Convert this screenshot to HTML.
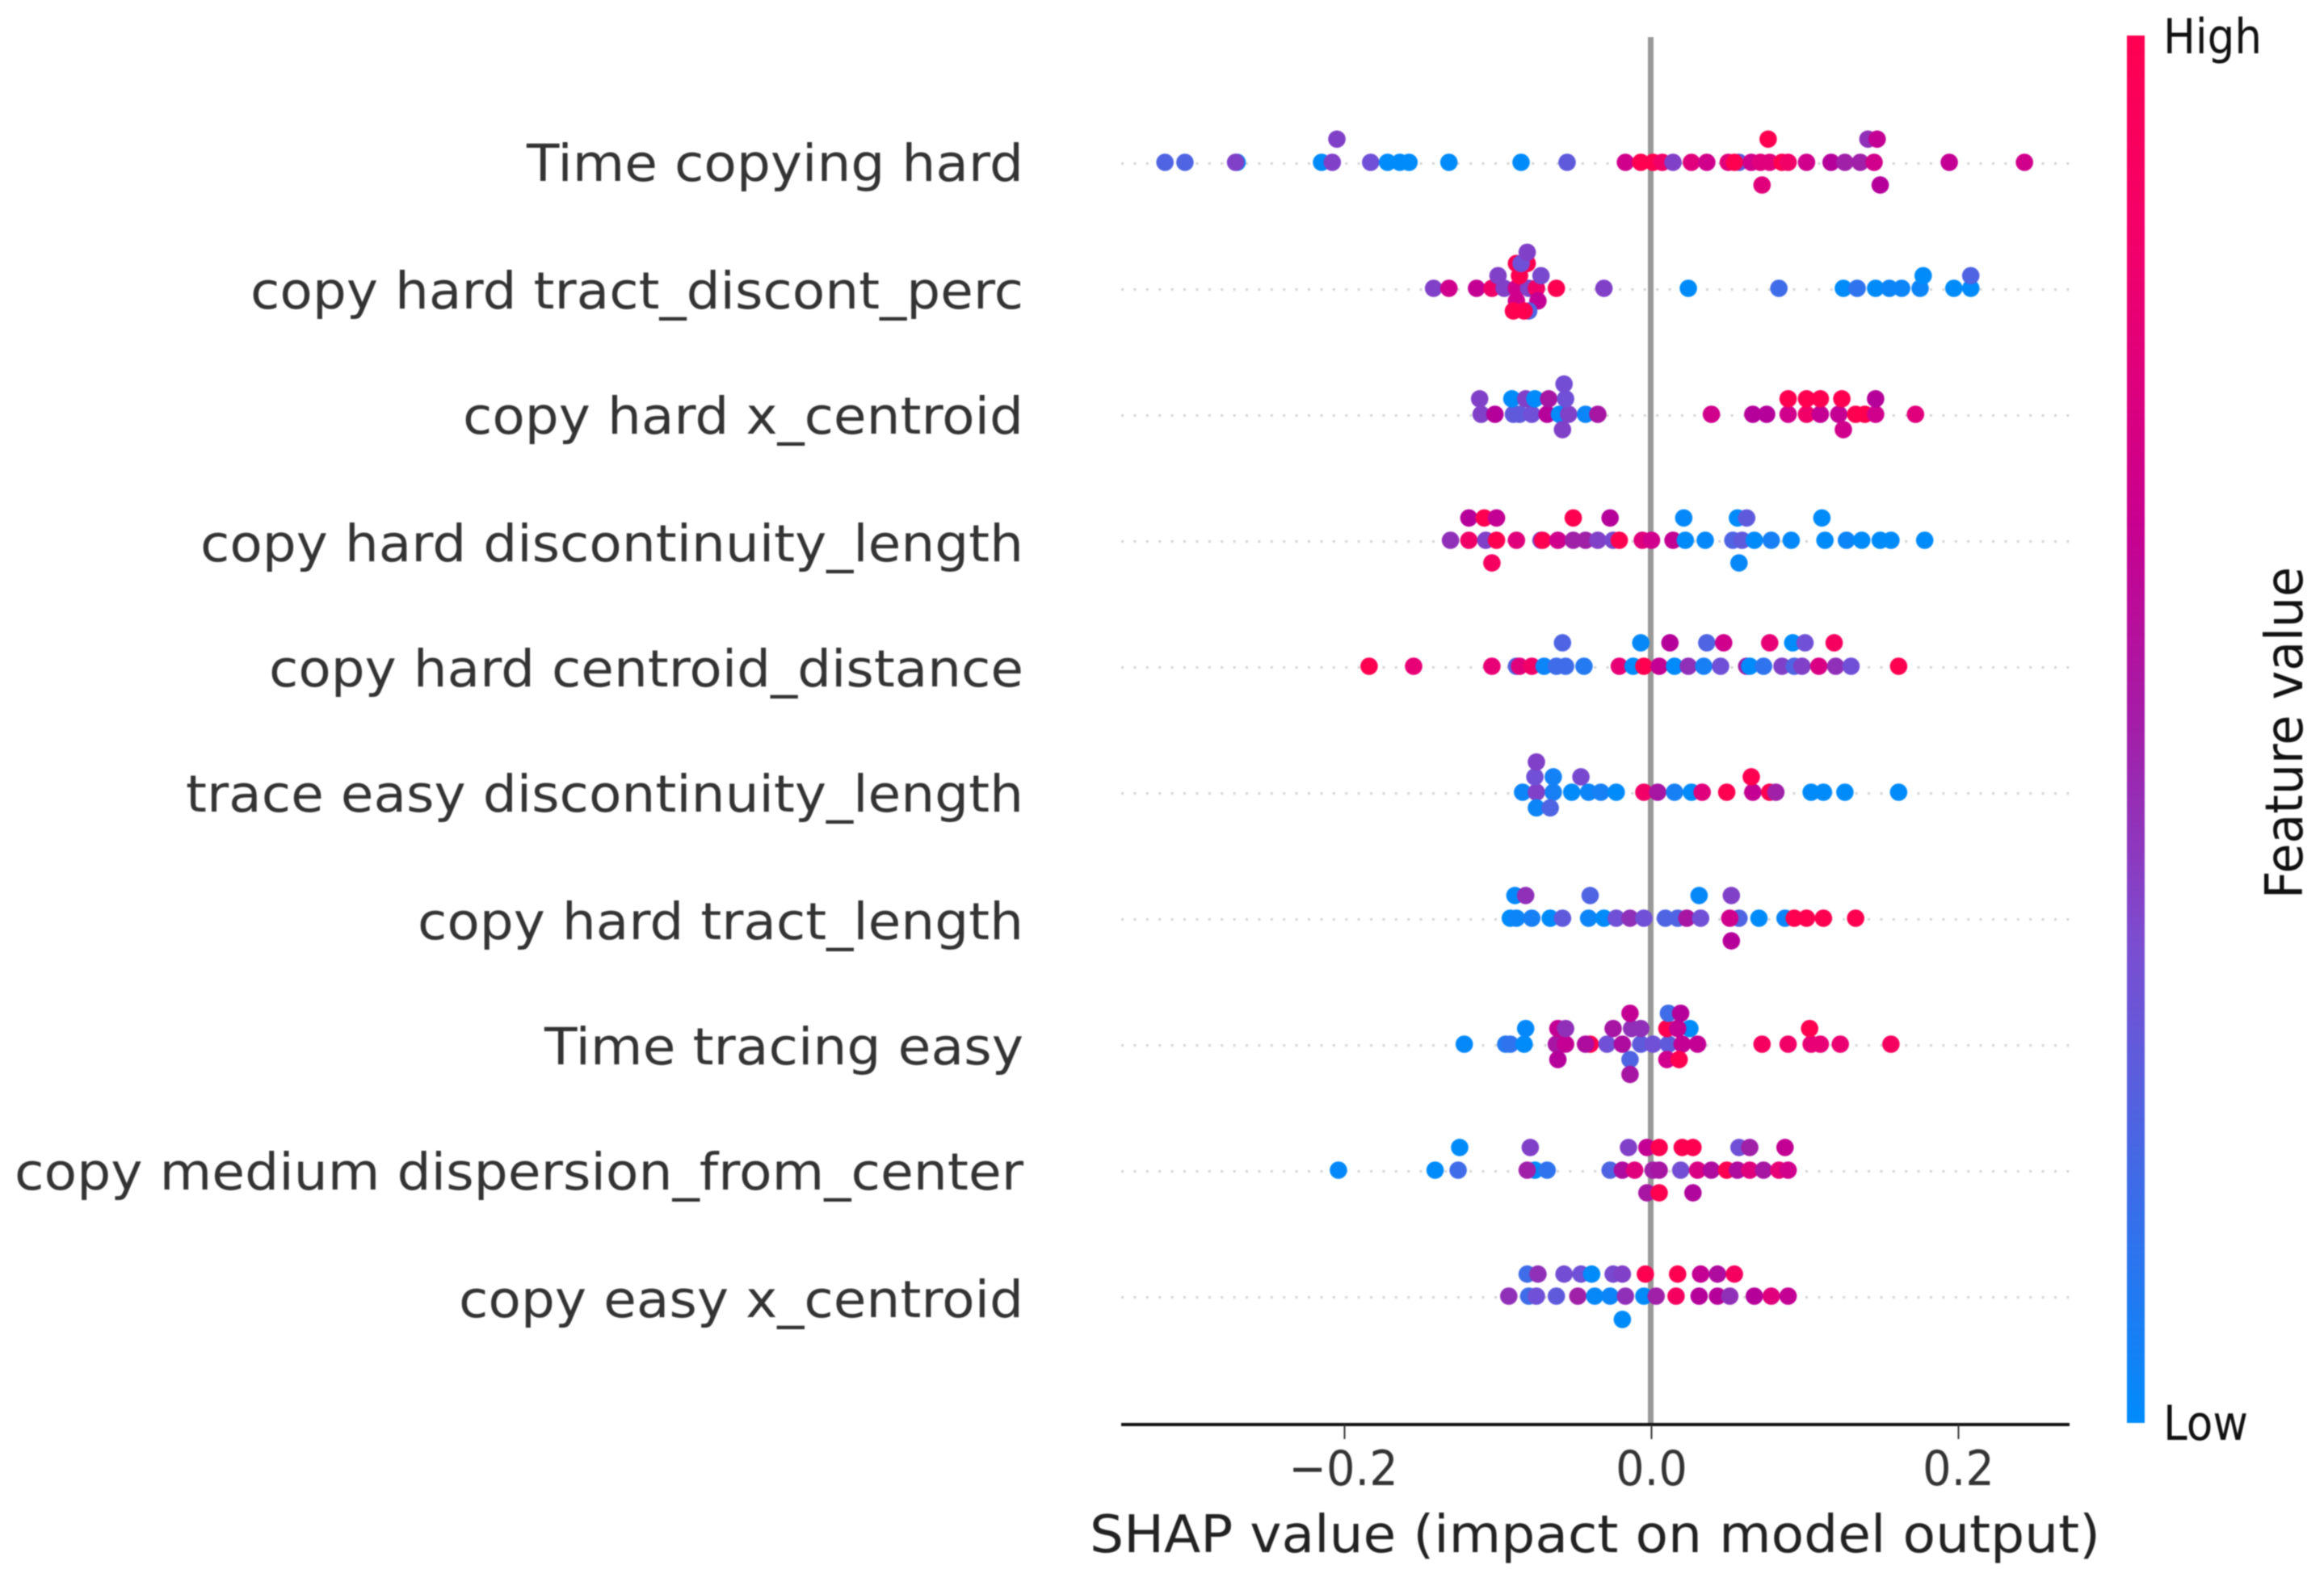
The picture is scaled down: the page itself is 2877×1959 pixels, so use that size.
<!DOCTYPE html>
<html lang="en">
<head>
<meta charset="utf-8">
<title>SHAP summary plot</title>
<style>
html,body{margin:0;padding:0;background:#fff;width:2877px;height:1959px;overflow:hidden}
svg{display:block;filter:blur(0.8px)}
text{font-family:"DejaVu Sans","Liberation Sans",sans-serif}
</style>
</head>
<body>
<svg id="chart" xmlns="http://www.w3.org/2000/svg" width="2877" height="1959" viewBox="0 0 2877 1959">
  <defs>
    <linearGradient id="cbar" x1="0" y1="1" x2="0" y2="0">
      <stop offset="0" stop-color="#008bfb"/>
      <stop offset="0.12" stop-color="#2c74ee"/>
      <stop offset="0.345" stop-color="#7b4dd0"/>
      <stop offset="0.5" stop-color="#a31ea8"/>
      <stop offset="0.647" stop-color="#c8008f"/>
      <stop offset="0.85" stop-color="#f2006a"/>
      <stop offset="1" stop-color="#ff0051"/>
    </linearGradient>
  </defs>
  <g id="rows"></g>
  <g id="zero"></g>
  <g id="points"></g>
  <g id="axis"></g>

  <g fill="#333" font-size="63" text-anchor="end">
    <text x="1267" y="224" textLength="615" lengthAdjust="spacingAndGlyphs">Time copying hard</text>
    <text x="1267" y="382" textLength="957" lengthAdjust="spacingAndGlyphs">copy hard tract_discont_perc</text>
    <text x="1267" y="537" textLength="694" lengthAdjust="spacingAndGlyphs">copy hard x_centroid</text>
    <text x="1267" y="695" textLength="1019" lengthAdjust="spacingAndGlyphs">copy hard discontinuity_length</text>
    <text x="1267" y="850" textLength="934" lengthAdjust="spacingAndGlyphs">copy hard centroid_distance</text>
    <text x="1267" y="1005" textLength="1037" lengthAdjust="spacingAndGlyphs">trace easy discontinuity_length</text>
    <text x="1267" y="1163" textLength="750" lengthAdjust="spacingAndGlyphs">copy hard tract_length</text>
    <text x="1267" y="1318" textLength="593" lengthAdjust="spacingAndGlyphs">Time tracing easy</text>
    <text x="1267" y="1473" textLength="1249" lengthAdjust="spacingAndGlyphs">copy medium dispersion_from_center</text>
    <text x="1267" y="1631" textLength="699" lengthAdjust="spacingAndGlyphs">copy easy x_centroid</text>
  </g>

  <text x="1349" y="1922" font-size="64" fill="#222" textLength="1251" lengthAdjust="spacingAndGlyphs">SHAP value (impact on model output)</text>

  <g>
    <rect x="2633" y="44" width="22" height="1718" fill="url(#cbar)"/>
    <text x="2678" y="66" font-size="60" fill="#111" textLength="122" lengthAdjust="spacingAndGlyphs">High</text>
    <text x="2678" y="1783" font-size="60" fill="#111" textLength="105" lengthAdjust="spacingAndGlyphs">Low</text>
    <text transform="translate(2850,1113) rotate(-90)" x="0" y="0" font-size="64" fill="#111" textLength="411" lengthAdjust="spacingAndGlyphs">Feature value</text>
  </g>
</svg>
<script>
const tickValues = [-0.2, 0, 0.2];
const tickLabels = ['\u22120.2', '0.0', '0.2'];

const shap1 = [-.317,-.304,-.270,-.271,-.215,-.208,-.183,-.172,-.164,-.158,-.132,-.085,-.055,-.017,-.007,.001,.007,.014,.026,.036,.057,.050,.054,.065,.071,.077,.085,.089,.101,.117,.126,.136,.145,.194,.243,-.205,.076,.141,.147,.072,.149];
const spread1 = [0,0,0,0,0,0,0,0,0,0,0,0,0,0,0,0,0,0,0,0,0,0,0,0,0,0,0,0,0,0,0,0,0,0,0,.184,.184,.184,.184,-.18,-.18];
const feature1 = [.3,.3,.05,.5,0,.5,.4,0,0,0,0,0,.35,.85,1,1,.95,.5,.9,.85,.35,.9,1,.85,.9,.9,1,.95,.85,.75,.6,.6,.85,.8,.85,.5,1,.55,.8,.9,.75];

const shap2 = [-.142,-.132,-.114,-.104,-.096,-.088,-.080,-.075,-.062,-.031,.024,.083,.125,.134,.146,.155,.163,.175,.197,.208,-.100,-.086,-.072,.177,.208,-.088,-.081,-.085,-.081,-.088,-.074,-.080,-.090,-.083];
const spread2 = [0,0,0,0,0,0,0,0,0,0,0,0,0,0,0,0,0,0,0,0,.10,.10,.10,.10,.10,.197,.197,.197,.286,-.10,-.10,-.18,-.18,-.18];
const feature2 = [.5,.85,.8,.95,.5,.85,.5,.95,1,.5,0,.25,0,.2,0,.05,.05,.05,0,0,.5,1,.45,0,.3,1,1,.4,.5,.85,.8,.3,1,1];

const shap3 = [-.111,-.102,-.090,-.086,-.078,-.068,-.060,-.054,-.043,-.035,.039,.066,.075,.089,.101,.110,.122,.133,.139,.146,.172,-.112,-.091,-.082,-.076,-.067,-.056,.089,.101,.110,.124,.146,-.057,-.058,.125];
const spread3 = [0,0,0,0,0,0,0,0,0,0,0,0,0,0,0,0,0,0,0,0,0,.123,.123,.123,.123,.123,.123,.123,.123,.123,.123,.123,.24,-.122,-.122];
const feature3 = [.5,.75,.35,.35,.4,.75,0,.5,.05,.65,.85,.75,.75,.85,.95,.8,.8,1,1,.85,.9,.5,0,.5,0,.65,.4,1,1,1,1,.75,.42,.5,.85];

const shap4 = [-.131,-.119,-.108,-.101,-.088,-.072,-.071,-.061,-.051,-.043,-.035,-.025,-.021,-.006,0,.014,.022,.035,.053,.059,.067,.078,.091,.113,.127,.137,.149,.156,.178,-.119,-.109,-.101,-.051,-.027,.021,.056,.062,.111,-.104,.057];
const spread4 = [0,0,0,0,0,0,0,0,0,0,0,0,0,0,0,0,0,0,0,0,0,0,0,0,0,0,0,0,0,.177,.177,.177,.177,.177,.177,.177,.177,.177,-.18,-.18];
const feature4 = [.55,.95,.5,1,.9,.45,1,.85,.6,.6,.5,.45,1,.9,.85,.8,0,.02,.3,.35,0,.1,.02,0,.05,0,0,0,0,.75,1,.8,1,.75,.02,0,.35,0,.97,.03];

const shap5 = [-.184,-.155,-.104,-.088,-.086,-.078,-.070,-.062,-.056,-.044,-.021,-.012,-.005,.005,.015,.024,.034,.045,.062,.064,.073,.085,.093,.098,.109,.120,.130,.161,-.058,-.007,.012,.036,.047,.077,.092,.100,.119];
const spread5 = [0,0,0,0,0,0,0,0,0,0,0,0,0,0,0,0,0,0,0,0,0,0,0,0,0,0,0,0,.186,.186,.186,.186,.186,.186,.186,.186,.186];
const feature5 = [1,.92,.92,.3,.9,.95,.05,.25,.25,.15,.92,0,1,.8,0,.55,.1,.4,.6,0,.2,.5,.3,.5,.88,.55,.4,1,.3,.03,.75,.3,.85,.92,0,.4,.97];

const shap6 = [-.084,-.075,-.064,-.052,-.041,-.033,-.023,-.005,.004,.015,.026,.033,.049,.066,.077,.081,.104,.112,.126,.161,-.076,-.064,-.046,.065,-.075,-.075,-.066];
const spread6 = [0,0,0,0,0,0,0,0,0,0,0,0,0,0,0,0,0,0,0,0,.122,.122,.122,.122,.24,-.124,-.124];
const feature6 = [.05,.5,.1,0,.05,.1,0,.95,.65,.1,0,.9,1,.8,1,.6,0,0,0,0,.4,.08,.45,1,.5,.05,.3];

const shap7 = [-.092,-.088,-.078,-.066,-.058,-.041,-.031,-.023,-.014,-.005,.009,.017,.023,.032,.057,.051,.070,.087,.093,.101,.112,.133,-.089,-.082,-.040,.031,.052,.052];
const spread7 = [0,0,0,0,0,0,0,0,0,0,0,0,0,0,0,0,0,0,0,0,0,0,.18,.18,.18,.18,.18,-.18];
const feature7 = [0,.05,.1,0,.35,.05,0,.4,.55,.4,.3,.3,.65,.4,.3,.85,0,.05,1,1,1,1,.02,.55,.3,.03,.5,.75];

const shap8 = [-.122,-.095,-.092,-.083,-.062,-.056,-.040,-.043,-.029,-.019,-.007,.001,.011,.020,.030,.072,.089,.104,.110,.123,.156,-.082,-.061,-.056,-.025,-.013,-.007,.025,.010,.017,.103,-.014,.011,.019,-.061,-.014,.010,.018,-.014];
const spread8 = [0,0,0,0,0,0,0,0,0,0,0,0,0,0,0,0,0,0,0,0,0,.124,.124,.124,.124,.124,.124,.124,.124,.124,.124,.245,.245,.245,-.122,-.122,-.122,-.122,-.24];
const feature8 = [.02,.15,.2,0,.65,.8,1,.7,.4,.7,.35,.4,.35,.8,.8,.97,.95,.92,.92,.93,.97,.02,.8,.55,.65,.55,.55,0,1,.8,1,.8,.25,.75,.75,.3,.85,1,.65];

const shap9 = [-.204,-.141,-.126,-.076,-.081,-.068,-.027,-.019,-.011,.001,.005,.019,.030,.039,.049,.056,.064,.073,.083,.089,-.125,-.079,-.015,-.003,.005,.020,.027,.057,.064,.087,-.003,.005,.027];
const spread9 = [0,0,0,0,0,0,0,0,0,0,0,0,0,0,0,0,0,0,0,0,.18,.18,.18,.18,.18,.18,.18,.18,.18,.18,-.18,-.18,-.18];
const feature9 = [.02,0,.25,0,.6,.2,.3,.7,.9,.6,.65,.42,.88,.7,1,.7,.9,.65,.92,.85,0,.5,.5,.8,1,1,1,.4,.6,.8,.65,1,.72];

const shap10 = [-.093,-.080,-.075,-.062,-.048,-.037,-.027,-.017,-.005,.003,.016,.031,.043,.051,.067,.078,.089,-.081,-.074,-.057,-.046,-.039,-.025,-.019,-.004,.017,.032,.043,.054,-.019];
const spread10 = [0,0,0,0,0,0,0,0,0,0,0,0,0,0,0,0,0,.175,.175,.175,.175,.175,.175,.175,.175,.175,.175,.175,.175,-.185];
const feature10 = [.55,.25,.4,.35,.6,.03,.05,.55,0,.6,.97,.75,.75,.55,.75,.9,.8,.25,.55,.42,.4,0,.45,.5,1,1,.8,.7,.97,0];

const rowShap = [shap1, shap2, shap3, shap4, shap5, shap6, shap7, shap8, shap9, shap10];
const rowSpread = [spread1, spread2, spread3, spread4, spread5, spread6, spread7, spread8, spread9, spread10];
const rowFeature = [feature1, feature2, feature3, feature4, feature5, feature6, feature7, feature8, feature9, feature10];

const SVGNS = 'http://www.w3.org/2000/svg';
function xScale(v) { return 2044.5 + 1900 * v; }
function yRow(i) { return 201 + 156 * i; }
function ySpread(i, s) { return yRow(i) - 156 * s; }

const colorAt = [0, .2, .3, .4, .5, .6, .75, .85, .92, 1];
const colorR = [0, 47, 79, 112, 128, 160, 181, 208, 232, 255];
const colorG = [139, 116, 100, 80, 64, 32, 0, 0, 0, 0];
const colorB = [251, 238, 226, 214, 200, 168, 154, 140, 118, 81];
function featureColor(t) {
  let k = 0;
  while (k < colorAt.length - 2 && t > colorAt[k + 1]) k++;
  const f = Math.max(0, Math.min(1, (t - colorAt[k]) / (colorAt[k + 1] - colorAt[k])));
  const mix = (a) => Math.round(a[k] + (a[k + 1] - a[k]) * f);
  return 'rgb(' + mix(colorR) + ',' + mix(colorG) + ',' + mix(colorB) + ')';
}

const rowsG = document.getElementById('rows');
const zeroG = document.getElementById('zero');
const pointsG = document.getElementById('points');
const axisG = document.getElementById('axis');

rowShap.forEach(function (vals, i) {
  const guide = document.createElementNS(SVGNS, 'line');
  
  
  guide.setAttribute('x1', 1388);
  guide.setAttribute('x2', 2562);
  guide.setAttribute('y1', yRow(i) + 1.5);
  guide.setAttribute('y2', yRow(i) + 1.5);
  guide.setAttribute('stroke', '#d4d4d4');
  guide.setAttribute('stroke-width', 3);
  guide.setAttribute('stroke-dasharray', '3 12.4');
  rowsG.appendChild(guide);
});

const zeroLine = document.createElementNS(SVGNS, 'line');


zeroLine.setAttribute('x1', xScale(0) - 1);
zeroLine.setAttribute('x2', xScale(0) - 1);
zeroLine.setAttribute('y1', 46);
zeroLine.setAttribute('y2', 1764);
zeroLine.setAttribute('stroke', '#999999');
zeroLine.setAttribute('stroke-width', 7);
zeroG.appendChild(zeroLine);

rowShap.forEach(function (vals, i) {
  vals.forEach(function (v, j) {
    const dot = document.createElementNS(SVGNS, 'circle');
    
    
    dot.setAttribute('cx', xScale(v));
    dot.setAttribute('cy', ySpread(i, rowSpread[i][j]));
    dot.setAttribute('r', 10.8);
    dot.setAttribute('fill', featureColor(rowFeature[i][j]));
    pointsG.appendChild(dot);
  });
});

const axisLine = document.createElementNS(SVGNS, 'line');


axisLine.setAttribute('x1', 1388);
axisLine.setAttribute('x2', 2562);
axisLine.setAttribute('y1', 1764);
axisLine.setAttribute('y2', 1764);
axisLine.setAttribute('stroke', '#111');
axisLine.setAttribute('stroke-width', 4);
axisG.appendChild(axisLine);

tickValues.forEach(function (v, i) {
  const tick = document.createElementNS(SVGNS, 'line');
  
  
  tick.setAttribute('x1', xScale(v));
  tick.setAttribute('x2', xScale(v));
  tick.setAttribute('y1', 1764);
  tick.setAttribute('y2', 1782);
  tick.setAttribute('stroke', '#333');
  tick.setAttribute('stroke-width', 2);
  axisG.appendChild(tick);

  const label = document.createElementNS(SVGNS, 'text');
  
  
  label.setAttribute('transform', 'translate(' + (xScale(v) - (v < 0 ? 1.5 : 0)) + ',1839) scale(.93,1)');
  label.setAttribute('text-anchor', 'middle');
  label.setAttribute('font-size', 60);
  label.setAttribute('fill', '#333');
  label.textContent = tickLabels[i];
  axisG.appendChild(label);
});
</script>
</body>
</html>
